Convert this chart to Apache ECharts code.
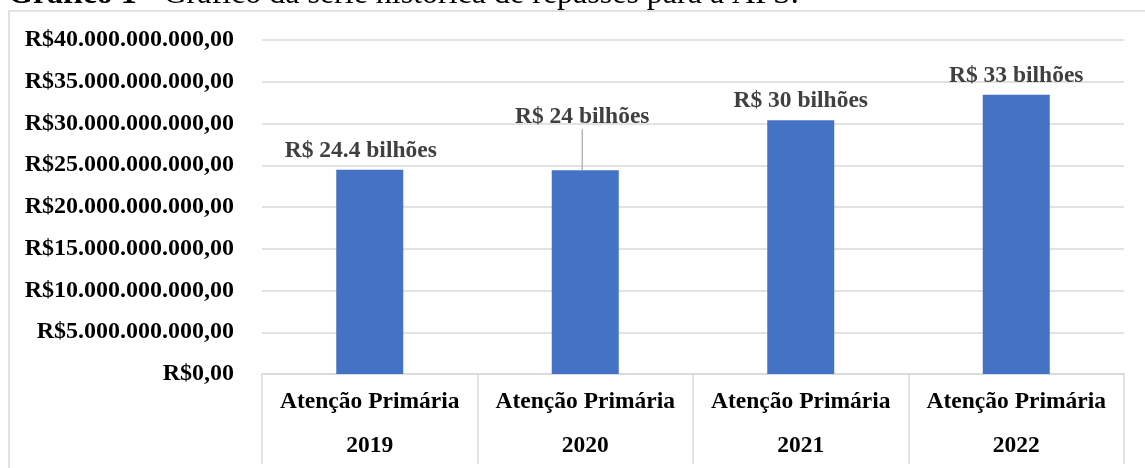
<!DOCTYPE html>
<html>
<head>
<meta charset="utf-8">
<script src="https://cdn.jsdelivr.net/npm/echarts@6/dist/echarts.min.js"></script>
<style>
  html, body { margin: 0; padding: 0; background: #fff; }
  #chart { width: 1145px; height: 468px; }
</style>
</head>
<body>
<div id="chart"></div>
<script>
// dados do gráfico
var categorias = ['Atenção Primária\n2019', 'Atenção Primária\n2020', 'Atenção Primária\n2021', 'Atenção Primária\n2022'];
var repasses = [24.45e9, 24.4e9, 30.4e9, 33.45e9];
var rotulos = ['R$ 24.4 bilhões', 'R$ 24 bilhões', 'R$ 30 bilhões', 'R$ 33 bilhões'];
var eixoMax = 40e9;
var eixoPasso = 5e9;

var fonte = "'Liberation Serif', 'Times New Roman', serif";

// formata valor no padrão brasileiro: R$40.000.000.000,00
function formataReal (v) {
  var inteiro = Math.round(v).toString();
  var partes = [];
  while (inteiro.length > 3) {
    partes.unshift(inteiro.slice(-3));
    inteiro = inteiro.slice(0, -3);
  }
  partes.unshift(inteiro);
  return 'R$' + partes.join('.') + ',00';
}

// só o rótulo de 2020 foi deslocado e tem linha de chamada
var dadosBarra = repasses.map(function (v, i) {
  return { value: v, labelLine: { show: i === 1 } };
});

var chart = echarts.init(document.getElementById('chart'));

var option = {
  animation: false,
  graphic: [
    {
      type: 'text',
      left: 8,
      top: -21,
      z: -20,
      style: {
        text: '{b|Gráfico 1 -} Gráfico da série histórica de repasses para a APS.',
        font: '32px ' + fonte,
        fill: '#000',
        rich: {
          b: { fontWeight: 'bold', fontSize: 32, fontFamily: fonte, fill: '#000' }
        }
      }
    },
    {
      type: 'rect',
      z: -10,
      shape: { x: 9, y: 11, width: 1300, height: 600 },
      style: { fill: '#fff', stroke: '#d9d9d9', lineWidth: 1.5 }
    }
  ],
  grid: { left: 262, right: 21, top: 40, bottom: 88 },
  xAxis: {
    type: 'category',
    data: categorias,
    axisLine: { lineStyle: { color: '#d9d9d9', width: 1.5 } },
    axisTick: { show: true, interval: 0, length: 90, lineStyle: { color: '#d9d9d9', width: 1.5 } },
    axisLabel: {
      interval: 0,
      margin: 6,
      align: 'center',
      color: '#000',
      fontFamily: fonte,
      fontWeight: 'bold',
      fontSize: 23.5,
      lineHeight: 44
    }
  },
  yAxis: {
    type: 'value',
    min: 0,
    max: eixoMax,
    interval: eixoPasso,
    axisLine: { show: false },
    axisTick: { show: false },
    splitLine: { lineStyle: { color: '#d9d9d9', width: 1.5 } },
    axisLabel: {
      margin: 28,
      color: '#000',
      fontFamily: fonte,
      fontWeight: 'bold',
      fontSize: 24,
      formatter: formataReal
    }
  },
  series: [
    {
      type: 'bar',
      data: dadosBarra,
      barWidth: 67,
      itemStyle: { color: '#4472C4' },
      label: {
        show: true,
        position: 'top',
        distance: 7,
        color: '#404040',
        fontFamily: fonte,
        fontWeight: 'bold',
        fontSize: 23.5,
        formatter: function (p) { return rotulos[p.dataIndex]; }
      },
      labelLine: { lineStyle: { color: '#a6a6a6', width: 1.2 } },
      labelLayout: function (p) {
        if (p.dataIndex === 0) return { dx: -9 };
        if (p.dataIndex === 1) return { dx: -3, dy: -34 };
        return {};
      }
    }
  ]
};

chart.setOption(option);
</script>
</body>
</html>
